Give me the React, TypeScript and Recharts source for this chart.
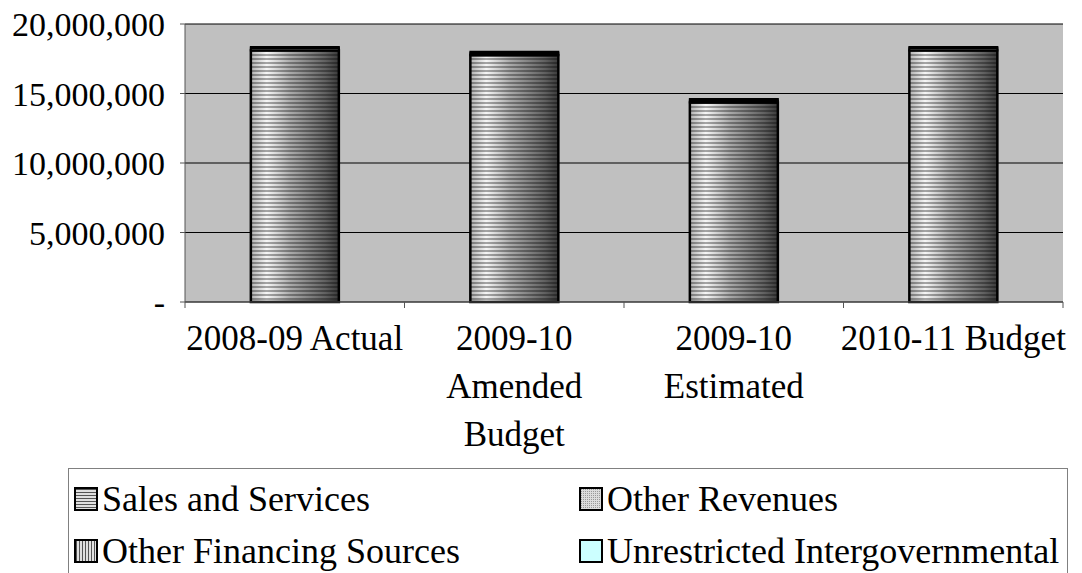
import React from 'react';
import { BarChart, Bar, XAxis, YAxis, CartesianGrid, Legend } from 'recharts';

const CATEGORIES = ['2008-09 Actual', '2009-10 Amended Budget', '2009-10 Estimated', '2010-11 Budget'];
const TICK_LINES = [['2008-09 Actual'], ['2009-10', 'Amended', 'Budget'], ['2009-10', 'Estimated'], ['2010-11 Budget']];
const SALES = [18100000, 17750000, 14350000, 18100000];
const OTHER_REVENUES = [150000, 150000, 150000, 150000];
const OTHER_FINANCING = [100000, 100000, 100000, 100000];
const UNRESTRICTED = [0, 0, 0, 0];
const Y_TICKS = [0, 5000000, 10000000, 15000000, 20000000];

const data = CATEGORIES.map((name, i) => ({
  name,
  sales: SALES[i],
  otherRev: OTHER_REVENUES[i],
  otherFin: OTHER_FINANCING[i],
  unrestricted: UNRESTRICTED[i],
}));

const W = 1082;
const H = 573;
const M = { top: 24, right: 19, left: 0, bottom: 0 };
const Y_W = 185;
const PLOT_BOTTOM = 302;
const BAND = (W - M.right - Y_W) / CATEGORIES.length;
const FONT = '"Liberation Serif", "DejaVu Serif", serif';

const SalesShape = (props: any) => {
  const { x, y, width, height } = props;
  if (!height) return null;
  return (
    <g>
      <rect x={x} y={y} width={width} height={height} fill="url(#cyl)" />
      <rect x={x} y={y} width={width} height={height} fill="url(#hstripe)" />
      <rect x={x} y={y} width={width} height={height} fill="none" stroke="#000" strokeWidth={2.5} />
    </g>
  );
};

const XTick = (props: any) => {
  const { x, y, index } = props;
  const lines = TICK_LINES[index] || [];
  const left = x - BAND / 2;
  return (
    <g>
      <line x1={left} y1={y - 6} x2={left} y2={y} stroke="#555" />
      {index === CATEGORIES.length - 1 && (
        <line x1={x + BAND / 2} y1={y - 6} x2={x + BAND / 2} y2={y} stroke="#555" />
      )}
      {lines.map((l, i) => (
        <text key={i} x={x} y={y + 42 + i * 48} textAnchor="middle" fontSize={35} fontFamily={FONT} fill="#000">
          {l}
        </text>
      ))}
    </g>
  );
};

const SWATCH: Record<string, string> = {
  sales: 'url(#hstripeLeg)',
  otherRev: 'url(#dots)',
  otherFin: 'url(#vstripe)',
  unrestricted: '#ccffff',
};

const LegendBox = (props: any) => {
  const order = ['sales', 'otherRev', 'otherFin', 'unrestricted'];
  const items = order.map((k) => (props.payload || []).find((p: any) => p.dataKey === k)).filter(Boolean);
  return (
    <div
      style={{
        display: 'grid',
        gridTemplateColumns: '505px 1fr',
        padding: '4px 0 0 5px',
        fontFamily: FONT,
        fontSize: 36,
        color: '#000',
        whiteSpace: 'nowrap',
      }}
    >
      {items.map((it: any) => (
        <div key={it.dataKey} style={{ display: 'flex', alignItems: 'center', height: 52 }}>
          <svg width={26} height={24} style={{ marginRight: 2 }}>
            <rect x={1} y={1} width={22} height={22} fill={SWATCH[it.dataKey]} stroke="#000" strokeWidth={2} />
          </svg>
          <span>{it.value}</span>
        </div>
      ))}
    </div>
  );
};

export default function App() {
  return (
    <div style={{ position: 'absolute', left: 0, top: 0, width: W, height: H, overflow: 'hidden' }}>
      <BarChart width={W} height={H} data={data} margin={M} barCategoryGap="30%">
        <defs>
          <linearGradient id="cyl" x1="0" y1="0" x2="1" y2="0">
            <stop offset="0%" stopColor="#b0b0b0" />
            <stop offset="18%" stopColor="#f6f6f6" />
            <stop offset="45%" stopColor="#aaaaaa" />
            <stop offset="85%" stopColor="#606060" />
            <stop offset="100%" stopColor="#3a3a3a" />
          </linearGradient>
          <pattern id="hstripe" width={8} height={4} patternUnits="userSpaceOnUse">
            <rect x={0} y={2} width={8} height={2} fill="rgba(0,0,0,0.33)" />
          </pattern>
          <pattern id="hstripeLeg" width={4} height={3} patternUnits="userSpaceOnUse">
            <rect width={4} height={3} fill="#e0e0e0" />
            <rect y={2} width={4} height={1} fill="#555" />
          </pattern>
          <pattern id="vstripe" width={3} height={4} patternUnits="userSpaceOnUse">
            <rect width={3} height={4} fill="#e0e0e0" />
            <rect x={2} width={1} height={4} fill="#555" />
          </pattern>
          <pattern id="dots" width={2} height={2} patternUnits="userSpaceOnUse">
            <rect width={2} height={2} fill="#dcdcdc" />
            <rect width={1} height={1} fill="#999" />
          </pattern>
        </defs>
        <CartesianGrid fill="#c0c0c0" vertical={false} stroke="#000" strokeOpacity={1} />
        <XAxis
          dataKey="name"
          height={H - PLOT_BOTTOM - M.bottom}
          interval={0}
          tickLine={false}
          tickSize={6}
          tickMargin={0}
          tick={<XTick />}
          axisLine={{ stroke: '#555' }}
        />
        <YAxis
          width={Y_W}
          domain={[0, 20000000]}
          ticks={Y_TICKS}
          interval={0}
          tickSize={5}
          tickMargin={15}
          tickLine={{ stroke: '#555' }}
          axisLine={{ stroke: '#555' }}
          tickFormatter={(v: number) => (v === 0 ? '-' : v.toLocaleString('en-US'))}
          tick={{ fontSize: 34, fontFamily: FONT, fill: '#000' }}
        />
        <Legend
          layout="horizontal"
          verticalAlign="middle"
          align="center"
          content={<LegendBox />}
          wrapperStyle={{ left: 68, top: 468, width: 1000, height: 120, border: '1px solid #808080', boxSizing: 'border-box' }}
        />
        <Bar dataKey="sales" name="Sales and Services" stackId="a" fill="url(#hstripeLeg)" shape={<SalesShape />} isAnimationActive={false} />
        <Bar dataKey="otherRev" name="Other Revenues" stackId="a" fill="url(#dots)" stroke="#000" strokeWidth={2} isAnimationActive={false} />
        <Bar dataKey="otherFin" name="Other Financing Sources" stackId="a" fill="url(#vstripe)" stroke="#000" strokeWidth={2} isAnimationActive={false} />
        <Bar dataKey="unrestricted" name="Unrestricted Intergovernmental" stackId="a" fill="#ccffff" stroke="#000" strokeWidth={2} isAnimationActive={false} />
      </BarChart>
    </div>
  );
}
